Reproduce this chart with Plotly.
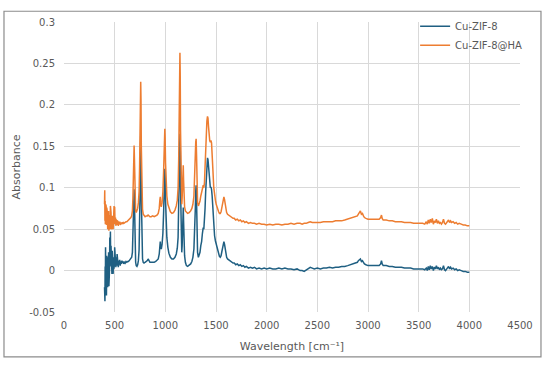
import plotly.graph_objects as go

# ---- data ----
wavenumber = [
    400, 402, 404, 406, 408, 410, 413, 416, 419, 422,
    425, 428, 431, 434, 437, 440, 443, 446, 449, 452,
    455, 458, 461, 464, 467, 470, 473, 476, 479, 482,
    485, 488, 491, 494, 497, 500, 504, 508, 512, 516,
    520, 524, 528, 532, 536, 540, 545, 550, 555, 560,
    566, 572, 578, 584, 590, 597, 604, 612, 620, 628,
    636, 644, 652, 660, 668, 675, 680, 684, 688, 692,
    695, 698, 702, 707, 713, 720, 727, 734, 741, 746,
    750, 754, 757, 760, 763, 766, 770, 775, 782, 790,
    800, 812, 822, 830, 838, 848, 860, 875, 890, 905,
    918, 930, 940, 946, 950, 954, 960, 968, 976, 983,
    988, 992, 995, 998, 1002, 1008, 1015, 1025, 1035, 1050,
    1065, 1080, 1095, 1108, 1118, 1126, 1132, 1137, 1141, 1144,
    1147, 1150, 1154, 1158, 1162, 1166, 1170, 1174, 1177, 1180,
    1184, 1190, 1198, 1208, 1220, 1235, 1250, 1262, 1272, 1282,
    1290, 1296, 1300, 1304, 1308, 1312, 1318, 1326, 1334, 1342,
    1350, 1358, 1366, 1374, 1380, 1386, 1392, 1398, 1404, 1410,
    1416, 1421, 1426, 1432, 1438, 1444, 1450, 1456, 1462, 1470,
    1478, 1486, 1494, 1502, 1510, 1518, 1526, 1534, 1542, 1550,
    1558, 1566, 1572, 1578, 1584, 1590, 1597, 1605, 1614, 1624,
    1634, 1645, 1656, 1668, 1680, 1695, 1710, 1725, 1740, 1755,
    1770, 1785, 1800, 1820, 1840, 1860, 1880, 1900, 1925, 1950,
    1975, 2000, 2030, 2060, 2090, 2120, 2150, 2180, 2210, 2240,
    2270, 2300, 2330, 2350, 2370, 2390, 2410, 2430, 2450, 2470,
    2500, 2530, 2560, 2590, 2620, 2650, 2680, 2710, 2740, 2770,
    2800, 2830, 2860, 2880, 2895, 2905, 2915, 2925, 2935, 2945,
    2955, 2965, 2980, 3000, 3030, 3060, 3090, 3110, 3125, 3133,
    3140, 3150, 3180, 3210, 3240, 3270, 3300, 3330, 3360, 3390,
    3420, 3450, 3480, 3510, 3540, 3560, 3575, 3585, 3595, 3605,
    3615, 3625, 3635, 3645, 3655, 3665, 3675, 3685, 3695, 3705,
    3715, 3725, 3735, 3745, 3755, 3765, 3775, 3785, 3795, 3805,
    3815, 3825, 3840, 3855, 3870, 3885, 3900, 3920, 3940, 3960,
    3980, 4000,
]

absorbance_cu_zif8 = [
    -0.020, -0.031, -0.037, 0.005, -0.026, 0.028, -0.016, 0.010, -0.030, 0.018,
    -0.012, 0.012, -0.020, 0.016, -0.008, 0.022, -0.019, 0.014, 0.000, 0.040,
    0.005, 0.047, 0.010, 0.030, 0.000, 0.020, -0.004, 0.024, 0.004, 0.018,
    -0.004, 0.016, 0.002, 0.012, 0.006, 0.028, 0.008, 0.020, 0.004, 0.016,
    0.006, 0.020, 0.008, 0.014, 0.004, 0.012, 0.007, 0.013, 0.006, 0.011,
    0.008, 0.012, 0.009, 0.011, 0.008, 0.010, 0.009, 0.011, 0.010, 0.011,
    0.011, 0.012, 0.013, 0.014, 0.016, 0.022, 0.040, 0.070, 0.092, 0.098,
    0.085, 0.050, 0.022, 0.010, 0.006, 0.005, 0.007, 0.012, 0.025, 0.050,
    0.090, 0.140, 0.163, 0.140, 0.090, 0.050, 0.025, 0.014, 0.010, 0.009,
    0.010, 0.011, 0.012, 0.014, 0.012, 0.010, 0.010, 0.010, 0.010, 0.011,
    0.012, 0.014, 0.020, 0.030, 0.035, 0.028, 0.026, 0.032, 0.045, 0.070,
    0.095, 0.115, 0.123, 0.112, 0.085, 0.058, 0.040, 0.028, 0.021, 0.016,
    0.014, 0.014, 0.016, 0.020, 0.027, 0.040, 0.070, 0.110, 0.150, 0.165,
    0.150, 0.100, 0.050, 0.025, 0.022, 0.030, 0.050, 0.070, 0.076, 0.060,
    0.035, 0.018, 0.010, 0.006, 0.005, 0.006, 0.008, 0.011, 0.016, 0.026,
    0.045, 0.075, 0.095, 0.103, 0.085, 0.045, 0.022, 0.016, 0.018, 0.022,
    0.030, 0.035, 0.045, 0.052, 0.050, 0.058, 0.075, 0.095, 0.115, 0.128,
    0.136, 0.134, 0.124, 0.112, 0.104, 0.100, 0.101, 0.098, 0.090, 0.070,
    0.052, 0.042, 0.036, 0.032, 0.028, 0.024, 0.020, 0.017, 0.016, 0.018,
    0.023, 0.030, 0.034, 0.035, 0.032, 0.026, 0.020, 0.016, 0.014, 0.013,
    0.012, 0.011, 0.010, 0.009, 0.009, 0.007, 0.008, 0.006, 0.007, 0.005,
    0.006, 0.004, 0.005, 0.003, 0.004, 0.003, 0.004, 0.002, 0.003, 0.002,
    0.003, 0.002, 0.003, 0.002, 0.002, 0.003, 0.002, 0.003, 0.002, 0.002,
    0.001, 0.002, 0.000, 0.000, -0.001, 0.001, 0.003, 0.004, 0.003, 0.002,
    0.003, 0.002, 0.003, 0.003, 0.004, 0.003, 0.004, 0.004, 0.005, 0.005,
    0.006, 0.007, 0.008, 0.009, 0.010, 0.012, 0.013, 0.014, 0.011, 0.012,
    0.010, 0.008, 0.007, 0.006, 0.006, 0.006, 0.006, 0.006, 0.008, 0.012,
    0.008, 0.006, 0.006, 0.005, 0.005, 0.004, 0.004, 0.004, 0.003, 0.003,
    0.003, 0.002, 0.002, 0.002, 0.002, 0.001, 0.003, 0.000, 0.005, 0.001,
    0.006, 0.002, 0.005, 0.000, 0.004, 0.002, 0.006, 0.002, 0.004, 0.001,
    0.003, 0.001, 0.002, 0.006, 0.001, 0.000, 0.002, 0.003, 0.005, 0.002,
    0.004, 0.002, 0.003, 0.001, 0.002, 0.000, 0.001, 0.000, -0.001, -0.001,
    -0.002, -0.002,
]

absorbance_cu_zif8_ha = [
    0.080, 0.097, 0.060, 0.084, 0.056, 0.080, 0.064, 0.078, 0.055, 0.076,
    0.060, 0.070, 0.050, 0.068, 0.056, 0.072, 0.048, 0.065, 0.055, 0.067,
    0.050, 0.078, 0.058, 0.070, 0.052, 0.064, 0.050, 0.066, 0.055, 0.062,
    0.050, 0.060, 0.054, 0.078, 0.056, 0.077, 0.056, 0.064, 0.054, 0.062,
    0.055, 0.061, 0.055, 0.060, 0.054, 0.059, 0.056, 0.059, 0.055, 0.058,
    0.056, 0.058, 0.057, 0.058, 0.057, 0.058, 0.058, 0.059, 0.059, 0.060,
    0.060, 0.062, 0.063, 0.064, 0.066, 0.072, 0.088, 0.115, 0.142, 0.151,
    0.135, 0.100, 0.080, 0.072, 0.070, 0.072, 0.075, 0.082, 0.095, 0.125,
    0.165, 0.205, 0.228, 0.205, 0.150, 0.110, 0.085, 0.074, 0.068, 0.066,
    0.065, 0.066, 0.066, 0.067, 0.066, 0.065, 0.065, 0.066, 0.065, 0.066,
    0.067, 0.069, 0.075, 0.085, 0.089, 0.080, 0.077, 0.082, 0.095, 0.120,
    0.145, 0.165, 0.171, 0.160, 0.130, 0.103, 0.090, 0.080, 0.075, 0.071,
    0.069, 0.070, 0.073, 0.078, 0.085, 0.100, 0.135, 0.190, 0.240, 0.263,
    0.235, 0.170, 0.110, 0.085, 0.080, 0.088, 0.105, 0.122, 0.127, 0.110,
    0.088, 0.077, 0.072, 0.070, 0.069, 0.070, 0.072, 0.075, 0.080, 0.090,
    0.110, 0.140, 0.155, 0.159, 0.140, 0.100, 0.082, 0.078, 0.080, 0.084,
    0.090, 0.094, 0.100, 0.103, 0.100, 0.106, 0.125, 0.148, 0.168, 0.180,
    0.186, 0.184, 0.174, 0.163, 0.157, 0.155, 0.157, 0.154, 0.143, 0.120,
    0.100, 0.090, 0.085, 0.080, 0.076, 0.073, 0.071, 0.069, 0.069, 0.071,
    0.076, 0.084, 0.088, 0.089, 0.086, 0.079, 0.073, 0.070, 0.068, 0.067,
    0.066, 0.065, 0.064, 0.063, 0.063, 0.061, 0.062, 0.060, 0.061, 0.059,
    0.060, 0.058, 0.059, 0.057, 0.058, 0.057, 0.057, 0.056, 0.057, 0.056,
    0.056, 0.055, 0.056, 0.055, 0.056, 0.056, 0.055, 0.056, 0.056, 0.057,
    0.056, 0.057, 0.057, 0.056, 0.057, 0.057, 0.058, 0.059, 0.058, 0.058,
    0.058, 0.058, 0.059, 0.059, 0.059, 0.059, 0.060, 0.060, 0.060, 0.061,
    0.062, 0.063, 0.064, 0.065, 0.066, 0.068, 0.070, 0.072, 0.068, 0.069,
    0.066, 0.064, 0.063, 0.062, 0.062, 0.062, 0.062, 0.062, 0.064, 0.067,
    0.063, 0.061, 0.061, 0.060, 0.060, 0.059, 0.059, 0.059, 0.058, 0.058,
    0.058, 0.057, 0.057, 0.057, 0.057, 0.056, 0.059, 0.056, 0.061, 0.057,
    0.062, 0.058, 0.063, 0.056, 0.060, 0.058, 0.062, 0.057, 0.060, 0.057,
    0.058, 0.056, 0.058, 0.062, 0.057, 0.056, 0.058, 0.059, 0.061, 0.058,
    0.060, 0.058, 0.059, 0.057, 0.058, 0.056, 0.057, 0.056, 0.055, 0.055,
    0.054, 0.054,
]

series_names = ["Cu-ZIF-8", "Cu-ZIF-8@HA"]
x_ticks = [0, 500, 1000, 1500, 2000, 2500, 3000, 3500, 4000, 4500]
y_ticks = [-0.05, 0, 0.05, 0.1, 0.15, 0.2, 0.25, 0.3]
y_tick_labels = ["-0.05", "0", "0.05", "0.1", "0.15", "0.2", "0.25", "0.3"]
x_title = "Wavelength [cm⁻¹]"
y_title = "Absorbance"

# ---- figure ----
FONT = "DejaVu Sans, Verdana, sans-serif"
TXT = "#595959"
GRID = "#d9d9d9"

fig = go.Figure()
fig.add_trace(go.Scatter(x=wavenumber, y=absorbance_cu_zif8, mode="lines",
                         name=series_names[0],
                         line=dict(color="#1f5f82", width=1.5)))
fig.add_trace(go.Scatter(x=wavenumber, y=absorbance_cu_zif8_ha, mode="lines",
                         name=series_names[1],
                         line=dict(color="#ed7d31", width=1.5)))

fig.update_layout(
    width=550, height=365,
    margin=dict(l=64, r=30, t=16, b=53),
    paper_bgcolor="white", plot_bgcolor="white",
    font=dict(family=FONT, size=10, color=TXT),
    showlegend=True,
    legend=dict(x=0.77, y=1.035, xanchor="left", yanchor="top",
                bgcolor="rgba(0,0,0,0)", font=dict(size=10, color=TXT),
                itemwidth=30, tracegroupgap=0),
    xaxis=dict(range=[0, 4500], tickvals=x_ticks, showgrid=True,
               gridcolor=GRID, gridwidth=1, zeroline=False, showline=False,
               ticks="outside", ticklen=4, tickcolor="rgba(0,0,0,0)",
               title=dict(text=x_title, font=dict(size=11, color=TXT), standoff=12)),
    yaxis=dict(range=[-0.05, 0.3], tickvals=y_ticks, ticktext=y_tick_labels,
               showgrid=True, gridcolor=GRID, gridwidth=1, zeroline=False,
               showline=False, ticks="outside", ticklen=6,
               tickcolor="rgba(0,0,0,0)",
               title=dict(text=y_title, font=dict(size=11, color=TXT), standoff=6)),
    shapes=[dict(type="rect", xref="paper", yref="paper",
                 x0=-0.1316, x1=1.046, y0=-0.155, y1=1.037,
                 line=dict(color="#8c8c8c", width=1.2), fillcolor="rgba(0,0,0,0)",
                 layer="below")],
)

fig.write_html("out.html",
               config={"displayModeBar": False},
               post_script="document.body.style.margin='0';")
